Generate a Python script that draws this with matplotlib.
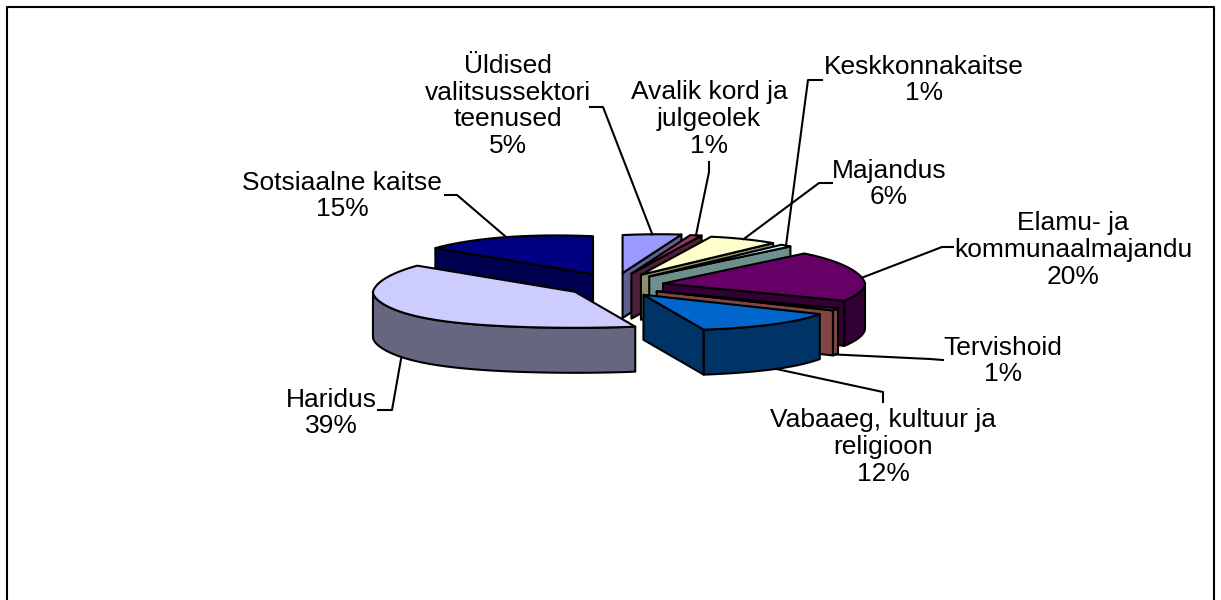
#!/usr/bin/python3
import numpy as np
import matplotlib
matplotlib.use("Agg")
import matplotlib.pyplot as plt

# share per sector, clockwise from 12 o'clock
labels = ["Üldised\nvalitsussektori\nteenused", "Avalik kord ja\njulgeolek", "Majandus", "Keskkonnakaitse",
          "Elamu- ja\nkommunaalmajandu", "Tervishoid", "Vabaaeg, kultuur ja\nreligioon", "Haridus", "Sotsiaalne kaitse"]
values = [5, 1, 6, 1, 20, 1, 12, 39, 15]
top_colors = ['#9999FF', '#993366', '#FFFFCC', '#CCFFFF', '#660066', '#FF8080', '#0066CC', '#CCCCFF', '#000080']
side_colors = ['#5F5F8F', '#4F1F3A', '#8F8F70', '#6F8F8F', '#330033', '#804545', '#003366', '#666680', '#000050']

# label layout, pixels
text_pos = [(508, 106), (709, 119), (889, 184), (924, 80), (1073, 250), (1003, 361), (883, 447), (331, 413), (342, 196)]
leaders = [[(590, 107), (603, 107)], [(709, 162), (709, 172)], [(832, 183), (819, 183)], [(822, 80), (808, 80)],
           [(953, 247), (942, 247)], [(943, 360), (930, 359)], [(883, 402), (883, 392)], [(378, 410), (392, 410)],
           [(445, 195), (457, 195)]]

cx, cy = 615, 285   # pie centre
rx = 202
ry_front = 36
depth = 45
explode = 0.242
explode_ry = 50

def pt(c, th):
    t = np.radians(th)
    cs = np.cos(t)
    # rough perspective: wider at the front, a little narrower at the back
    k = 1 + 0.22 * abs(cs) ** 3 if cs < 0 else 1 - 0.06 * cs
    ry = 38 + 8 * abs(np.sin(t)) if cs > 0 else ry_front
    return np.array([c[0] + rx * k * np.sin(t), c[1] - ry * cs])

def arc(c, th1, th2):
    n = max(int(abs(th2 - th1)), 2)
    return np.array([pt(c, t) for t in np.linspace(th1, th2, n)])

fig = plt.figure(figsize=(12.21, 6), dpi=100)
ax = fig.add_axes([0, 0, 1, 1])
ax.set_xlim(0, 1221)
ax.set_ylim(600, 0)
ax.axis('off')

ax.plot([7, 7, 1214, 1214], [600, 7, 7, 600], color='black', lw=1.5, zorder=1)

edges = np.cumsum([0] + values) * 3.6
mids = (edges[:-1] + edges[1:]) / 2
apex = [np.array([cx + explode * 200 * np.sin(np.radians(m)), cy - explode * explode_ry * np.cos(np.radians(m))]) for m in mids]

down = np.array([0, depth])
order = [8, 7, 0, 1, 2, 3, 4, 5, 6]
style = dict(edgecolor='black', linewidth=1.5, joinstyle='round')
z = 2
for i in order:
    c = apex[i]
    th1, th2 = edges[i], edges[i + 1]
    # cut face that looks at the viewer
    if th2 < 180:
        p = pt(c, th2)
        ax.fill(*np.array([c, p, p + down, c + down]).T, facecolor=side_colors[i], zorder=z, **style)
    elif th1 > 180:
        p = pt(c, th1)
        ax.fill(*np.array([c, p, p + down, c + down]).T, facecolor=side_colors[i], zorder=z, **style)
    # outer wall
    a, b = max(th1, 90), min(th2, 270)
    if a < b:
        top = arc(c, a, b)
        ax.fill(*np.vstack([top, (top + down)[::-1]]).T, facecolor=side_colors[i], zorder=z, **style)
    ax.fill(*np.vstack([c, arc(c, th1, th2)]).T, facecolor=top_colors[i], zorder=z, **style)
    z += 1

for i in range(len(values)):
    anchor = pt(apex[i], mids[i])
    if 90 < mids[i] < 270:
        anchor = anchor + down
    pts = np.array(leaders[i] + [anchor])
    ax.plot(pts[:, 0], pts[:, 1], color='black', lw=1.5, zorder=z + 1)
    ax.text(*text_pos[i], f"{labels[i]}\n{values[i]}%", ha='center', va='center', family='Liberation Sans',
            fontsize=19, linespacing=1.15, zorder=z + 2, color='black')

fig.savefig("out.png", dpi=100)
